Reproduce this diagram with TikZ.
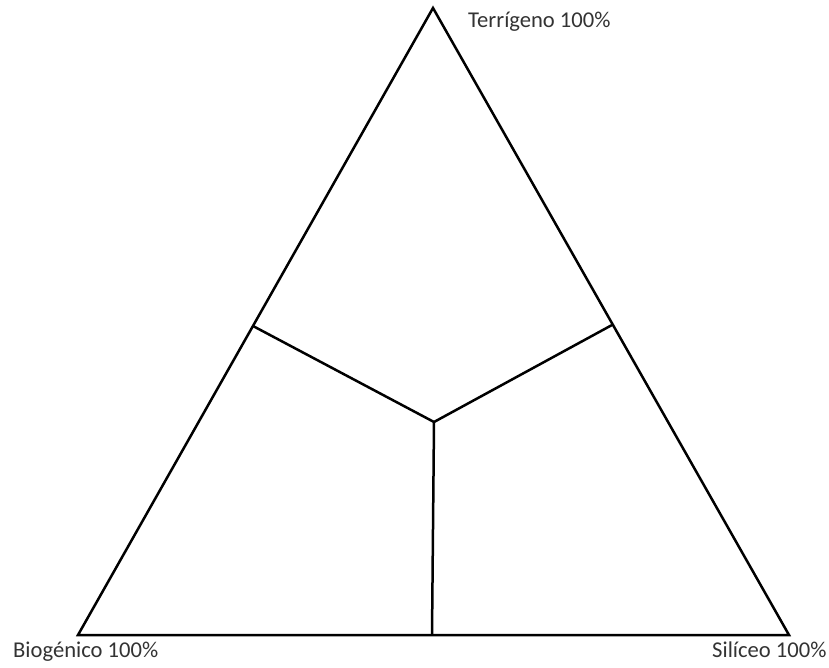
\documentclass[tikz,border=0pt]{standalone}
\usepackage{fontspec}
\setmainfont{Carlito}
\usetikzlibrary{positioning}

\begin{document}
\begin{tikzpicture}[
  x=1pt, y=-1pt,
  side/.style={draw=black, line width=2.5pt, line join=miter},
  split/.style={draw=black, line width=2.5pt},
  lbl/.style={anchor=base west, inner sep=0pt, text=black!80, font=\fontsize{22.6}{26}\selectfont}
]
\useasboundingbox (0,0) rectangle (829,668);
% corners of the triangle
\coordinate (top) at (433,8);
\coordinate (bl) at (78,635);
\coordinate (br) at (789,635);
% dividing lines
\coordinate (lm) at (253,326);
\coordinate (rm) at (612,325);
\coordinate (mid) at (434,422);
\coordinate (bm) at (432,635);
\draw[side] (top) -- (br) -- (bl) -- cycle;
\draw[split] (lm) -- (mid) -- (rm);
\draw[split] (mid) -- (bm);
% labels
\node[lbl] (ter) at (468,28) {Terrígeno 100\%};
\node[lbl] (bio) at (13,657) {Biogénico 100\%};
\node[lbl] (sil) at (712,657) {Silíceo 100\%};
\end{tikzpicture}
\end{document}
